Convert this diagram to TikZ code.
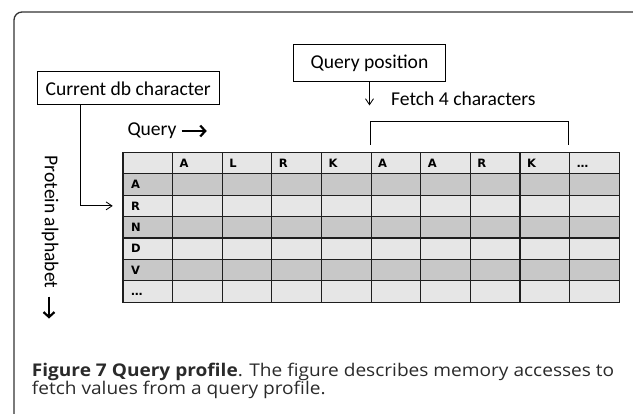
\documentclass[tikz,border=0pt]{standalone}
\usepackage{fontspec}
\setmainfont{Carlito}
\newfontfamily\captionfont[FakeStretch=1.09]{Open Sans}
\newfontfamily\cellfont{DejaVu Sans}
\usetikzlibrary{arrows.meta,calc}

\definecolor{rowlight}{HTML}{E6E6E6}
\definecolor{rowdark}{HTML}{C8C8C8}
\definecolor{gridline}{HTML}{1E1E1E}
\definecolor{framegray}{HTML}{333333}
\definecolor{captext}{HTML}{2A2A2A}

\tikzset{
  labeltext/.style={font=\fontsize{19.6}{23}\selectfont, text=black},
  labelbox/.style={labeltext, draw=black, line width=0.9pt, inner sep=0pt},
  cell/.style={draw=gridline, line width=1.2pt, anchor=north west, inner sep=0pt,
               minimum width=49.64pt, minimum height=21.43pt},
  celltext/.style={font=\cellfont\bfseries\fontsize{11.5}{13}\selectfont, anchor=base west, inner sep=0pt},
  conn/.style={draw=black, line width=0.8pt, -{Straight Barb[length=6pt,width=8pt]}},
  boldarrow/.style={draw=black, line width=2.2pt, -{Straight Barb[length=5pt,width=11pt]}},
  bracketline/.style={draw=black, line width=0.9pt},
  framestyle/.style={draw=framegray, line width=1.3pt, rounded corners=8pt},
  captionline/.style={font=\captionfont\fontsize{17.5}{20}\selectfont, text=captext, anchor=base west, inner sep=0pt}
}

\begin{document}
\begin{tikzpicture}[x=1pt, y=-1pt]
  \useasboundingbox (0,0) rectangle (633,414);
  \clip (0,0) rectangle (633,414);

  % outer frame, open at the bottom and right
  \draw[framestyle] (14,440) -- (14,12) -- (660,12);

  % labelled boxes
  \node[labelbox, minimum width=152.4pt, minimum height=36.7pt] (qp) at (369.5,63.3) {Query position};
  \node[labelbox, minimum width=181.7pt, minimum height=33.3pt] (cdb) at (128.2,88.3) {Current db character};

  % profile table: 7 rows x 10 columns
  \foreach \r in {0,...,6} {
    \foreach \c in {0,...,9} {
      \ifodd\r \def\cellfill{rowdark}\else \def\cellfill{rowlight}\fi
      \node[cell, fill=\cellfill] (cell-\r-\c) at (122.3+\c*49.64, 151.7+\r*21.43) {};
    }
  }
  \foreach \t [count=\c] in {A,L,R,K,A,A,R,K,…}
    \node[celltext] (head-\c) at ($(cell-0-\c.west)+(7.5,4.2)$) {\t};
  \foreach \t [count=\r] in {A,R,N,D,V,…}
    \node[celltext] (side-\r) at ($(cell-\r-0.west)+(8.5,4.2)$) {\t};

  % query direction
  \node[labeltext, anchor=base west, inner sep=0pt] (qry) at (127.3,136) {Query};
  \draw[boldarrow] ($(qry.base east)+(5,-5)$) -- ++(25,0);

  % alphabet direction
  \node[labeltext, rotate=-90, inner sep=0pt] (prot) at (50,222) {Protein alphabet};
  \draw[boldarrow] ($(prot.east)+(-1,8)$) -- ++(0,22);

  % current database character points at its row
  \coordinate (cdbfoot) at ($(cdb.south west)+(43.7,0)$);
  \draw[conn] (cdbfoot) |- ($(cell-2-0.west)+(-9.6,0)$);

  % query position fetches four characters
  \draw[conn] (qp.south) -- ++(0,23.3);
  \node[labeltext, anchor=base west, inner sep=0pt] (fetch) at (391,106) {Fetch 4 characters};
  \draw[bracketline] ($(cell-0-5.north west)+(0,-6.7)$) -- ++(0,-23.3)
                     -| ($(cell-0-8.north east)+(-1.5,-6.7)$);

  % caption
  \node[captionline] (cap1) at (31.7,376.7)
    {\textbf{Figure 7 Query profile}. The figure describes memory accesses to};
  \node[captionline] (cap2) at (31.7,395)
    {fetch values from a query profile.};
\end{tikzpicture}
\end{document}
